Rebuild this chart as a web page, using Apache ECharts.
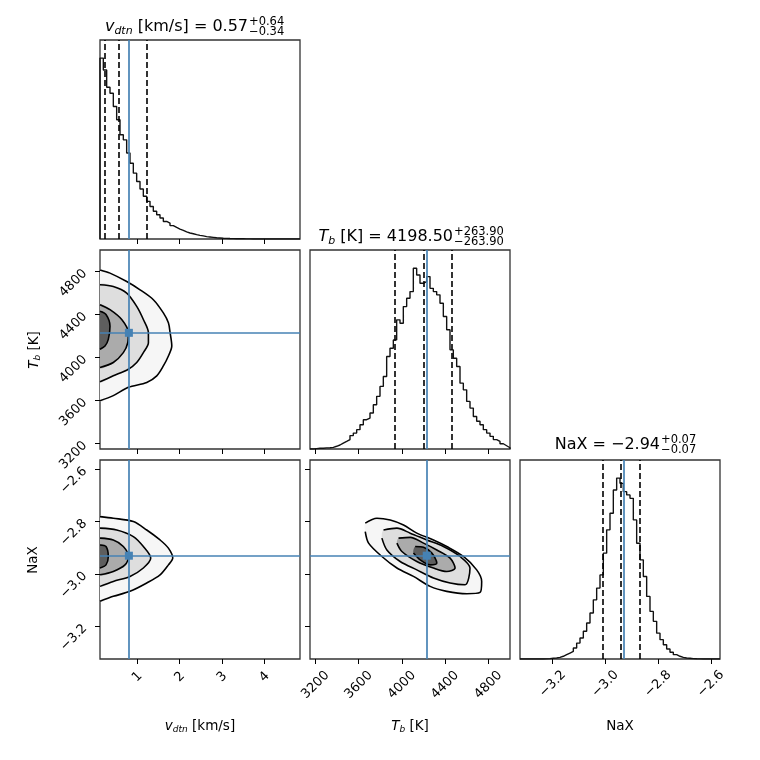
<!DOCTYPE html>
<html>
<head>
<meta charset="utf-8">
<script src="https://cdn.jsdelivr.net/npm/echarts@6/dist/echarts.min.js"></script>
<style>
  html, body { margin: 0; padding: 0; background: #fff; }
  #main { width: 760px; height: 760px; }
</style>
</head>
<body>
<div id="main"></div>
<script>
// ---- data ----
var vdtnRange = [0.118, 4.84];
var tbRange = [3150, 5000];
var naxRange = [-3.324, -2.565];

var vdtnTicks = [1, 2, 3, 4];
var tbTicks = [3200, 3600, 4000, 4400, 4800];
var naxTicks = [-3.2, -3.0, -2.8, -2.6];

var truthVdtn = 0.80;
var truthTb = 4230;
var truthNax = -2.93;

// 16 / 50 / 84 per cent quantiles
var qVdtn = [0.23, 0.57, 1.21];
var qTb = [3934.6, 4198.5, 4462.4];
var qNax = [-3.01, -2.94, -2.87];

// histogram heights, 60 bins over each axis range (peak = 100)
var histVdtn = [
  100, 93.4, 83.9, 80.6, 73.2, 65.9, 57.6, 54.8, 47.5, 41.9,
  36.4, 31.8, 27.6, 23.6, 20.8, 18.0, 15.3, 13.4, 11.6, 9.7,
  8.8, 7.4, 6.4, 5.5, 4.8, 3.9, 3.3, 2.9, 2.4, 2.0,
  1.7, 1.3, 1.1, 0.9, 0.7, 0.55, 0.4, 0.35, 0.25, 0.2,
  0.15, 0.1, 0.1, 0.05, 0.05, 0.03, 0, 0, 0, 0,
  0, 0, 0, 0, 0, 0, 0, 0, 0, 0
];
var histTb = [
  0.0, 0.2, 0.4, 0.4, 0.6, 0.7, 0.9, 1.5, 2.2, 3.3,
  4.2, 5.2, 7.4, 8.8, 10.7, 13.4, 16.2, 17.1, 19.9, 24.5,
  29.1, 34.6, 40.1, 51.1, 55.7, 60.3, 71.4, 69.5, 78.7, 83.3,
  87.0, 99.9, 96.2, 91.6, 92.5, 95.3, 88.8, 87.0, 85.2, 80.6,
  73.2, 65.9, 54.8, 50.2, 45.6, 36.4, 32.7, 26.3, 22.6, 18.0,
  15.3, 13.4, 10.7, 8.8, 7.0, 5.2, 4.2, 2.9, 1.8, 0.7
];
var histNax = [
  0, 0, 0, 0, 0, 0, 0, 0.05, 0.2, 0.4,
  0.55, 0.9, 1.5, 2.4, 3.3, 4.2, 6.1, 8.8, 11.6, 15.3,
  19.9, 25.4, 32.7, 39.2, 46.5, 58.5, 71.4, 80.6, 93.4, 100,
  97.1, 92.5, 90.7, 88.8, 76.9, 64.0, 54.8, 45.6, 34.6, 26.3,
  20.8, 14.3, 10.7, 7.9, 5.5, 3.7, 2.4, 1.5, 0.9, 0.55,
  0.4, 0.2, 0.1, 0.05, 0, 0, 0, 0, 0, 0
];

// contour levels, outer -> inner
var contVdtnTb = [
  [[0.118,4815],[0.354,4785],[0.749,4707],[1.064,4630],[1.378,4538],[1.614,4415],[1.733,4323],[1.773,4231],[1.813,4107],[1.733,4015],[1.614,3922],[1.458,3830],[1.222,3769],[0.787,3723],[0.432,3646],[0.118,3599]],
  [[0.118,4677],[0.432,4661],[0.749,4600],[0.985,4476],[1.142,4354],[1.261,4231],[1.261,4138],[1.142,4046],[0.985,3954],[0.787,3892],[0.432,3830],[0.118,3775]],
  [[0.118,4492],[0.354,4446],[0.631,4354],[0.787,4231],[0.773,4138],[0.669,4046],[0.432,3954],[0.118,3908]],
  [[0.118,4430],[0.26,4400],[0.354,4292],[0.314,4169],[0.236,4107],[0.118,4077]]
];
var contVdtnNax = [
  [[0.118,-2.781],[0.432,-2.787],[0.905,-2.800],[1.222,-2.832],[1.536,-2.870],[1.733,-2.901],[1.836,-2.939],[1.733,-2.965],[1.536,-3.003],[1.222,-3.034],[0.827,-3.066],[0.432,-3.085],[0.118,-3.104]],
  [[0.118,-2.825],[0.513,-2.832],[0.905,-2.857],[1.142,-2.895],[1.316,-2.939],[1.142,-2.977],[0.827,-3.009],[0.432,-3.028],[0.118,-3.047]],
  [[0.118,-2.863],[0.432,-2.870],[0.669,-2.895],[0.787,-2.933],[0.708,-2.965],[0.432,-2.990],[0.118,-3.003]],
  [[0.118,-2.889],[0.26,-2.895],[0.314,-2.933],[0.26,-2.965],[0.118,-2.977]]
];
var contTbNax = [
  [[3661,-2.806],[3769,-2.787],[3892,-2.794],[4015,-2.813],[4138,-2.844],[4292,-2.870],[4415,-2.895],[4569,-2.933],[4692,-2.984],[4738,-3.028],[4723,-3.070],[4600,-3.075],[4415,-3.066],[4261,-3.047],[4107,-3.009],[3954,-2.977],[3815,-2.933],[3692,-2.882],[3661,-2.838]],
  [[3830,-2.832],[3954,-2.825],[4077,-2.844],[4231,-2.870],[4384,-2.895],[4538,-2.933],[4630,-2.977],[4584,-3.041],[4446,-3.034],[4292,-3.015],[4138,-2.984],[3984,-2.952],[3861,-2.908],[3815,-2.863]],
  [[3969,-2.863],[4077,-2.860],[4200,-2.882],[4323,-2.908],[4446,-2.939],[4492,-2.977],[4415,-2.990],[4292,-2.977],[4138,-2.952],[4000,-2.914],[3954,-2.882]],
  [[4123,-2.895],[4200,-2.898],[4277,-2.920],[4323,-2.958],[4261,-2.965],[4169,-2.946],[4107,-2.920]]
];

// ---- layout / style ----
var FONT = 'DejaVu Sans';
var BLUE = '#4682b4';
var panelLeft = [100, 310, 520];
var panelTop = [40, 250, 460];
var panelSize = 200;
var levelFill = ['#f6f6f6', '#dedede', '#ababab', '#5e5e5e'];

var params = [
  { range: vdtnRange, ticks: vdtnTicks, truth: truthVdtn, q: qVdtn, hist: histVdtn,
    fmt: function (v) { return String(v); }, xMargin: 18 },
  { range: tbRange, ticks: tbTicks, truth: truthTb, q: qTb, hist: histTb,
    fmt: function (v) { return String(v); }, xMargin: 26 },
  { range: naxRange, ticks: naxTicks, truth: truthNax, q: qNax, hist: histNax,
    fmt: function (v) { return (v < 0 ? '\u2212' : '') + Math.abs(v).toFixed(1); }, xMargin: 25 }
];
var pairs = {'1-0': contVdtnTb, '2-0': contVdtnNax, '2-1': contTbNax};

function histLine(counts, range) {
  var n = counts.length, w = (range[1] - range[0]) / n;
  var pts = [[range[0], 0]];
  for (var i = 0; i < n; i++) pts.push([range[0] + i * w, counts[i]]);
  pts.push([range[1], counts[n - 1]]);
  pts.push([range[1], 0]);
  return pts;
}

var grid = [], xAxis = [], yAxis = [], series = [];
var g = 0;
for (var r = 0; r < 3; r++) {
  for (var c = 0; c <= r; c++) {
    var px = params[c];
    grid.push({
      left: panelLeft[c], top: panelTop[r], width: panelSize, height: panelSize - 1,
      show: true, borderColor: '#333', borderWidth: 1.3, backgroundColor: 'transparent',
      outerBoundsMode: 'none', containLabel: false
    });
    xAxis.push({
      type: 'value', gridIndex: g, min: px.range[0], max: px.range[1],
      axisLine: { show: false }, splitLine: { show: false },
      axisTick: { show: true, inside: false, length: 5, customValues: px.ticks,
        lineStyle: { color: '#000', width: 1 } },
      axisLabel: { show: r === 2, customValues: px.ticks, formatter: px.fmt, rotate: 45,
        align: 'center', verticalAlign: 'middle', margin: px.xMargin,
        color: '#000', fontFamily: FONT, fontSize: 13 }
    });
    if (r === c) {
      yAxis.push({ type: 'value', gridIndex: g, min: 0, max: 110,
        axisLine: { show: false }, splitLine: { show: false },
        axisTick: { show: false }, axisLabel: { show: false } });
      var ml = px.q.map(function (q) {
        return { xAxis: q, lineStyle: { color: '#000', width: 1.6, type: [6, 3] } };
      });
      ml.push({ xAxis: px.truth, lineStyle: { color: BLUE, width: 1.7, type: 'solid' } });
      series.push({
        type: 'line', xAxisIndex: g, yAxisIndex: g, data: histLine(px.hist, px.range),
        step: 'end', symbol: 'none', lineStyle: { color: '#111', width: 1.4 },
        animation: false, silent: true, z: 2,
        markLine: { silent: true, symbol: ['none', 'none'], label: { show: false },
          emphasis: { disabled: true }, animation: false, data: ml }
      });
    } else {
      var py = params[r];
      yAxis.push({
        type: 'value', gridIndex: g, min: py.range[0], max: py.range[1],
        axisLine: { show: false }, splitLine: { show: false },
        axisTick: { show: true, inside: false, length: 5, customValues: py.ticks,
          lineStyle: { color: '#000', width: 1 } },
        axisLabel: { show: c === 0, customValues: py.ticks, formatter: py.fmt, rotate: 45,
          align: 'right', verticalAlign: 'middle', margin: 15,
          color: '#000', fontFamily: FONT, fontSize: 13 }
      });
      var levels = pairs[r + '-' + c];
      var closed = (c !== 0);
      (function (levels) {
        series.push({
          type: 'custom', xAxisIndex: g, yAxisIndex: g, clip: true, silent: true,
          animation: false, z: 1,
          data: levels.map(function (l, i) { return [i]; }),
          renderItem: function (p, api) {
            var i = api.value(0);
            var pts = levels[i].map(function (d) { return api.coord(d); });
            return { type: 'polygon', shape: { points: pts, smooth: 0.3 },
              style: { fill: levelFill[i], stroke: null } };
          }
        });
      })(levels);
      levels.forEach(function (lv) {
        var d = lv.slice();
        if (closed) d.push(lv[0]);
        series.push({
          type: 'line', xAxisIndex: g, yAxisIndex: g, data: d, smooth: 0.3,
          symbol: 'none', lineStyle: { color: '#000', width: 1.6 },
          animation: false, silent: true, z: 2
        });
      });
      series.push({
        type: 'scatter', xAxisIndex: g, yAxisIndex: g, data: [[px.truth, py.truth]],
        symbol: 'rect', symbolSize: 8, itemStyle: { color: BLUE, opacity: 1 },
        animation: false, silent: true, z: 4,
        markLine: { silent: true, symbol: ['none', 'none'], label: { show: false },
          emphasis: { disabled: true }, animation: false,
          lineStyle: { color: BLUE, width: 1.7, type: 'solid' },
          data: [{ xAxis: px.truth }, { yAxis: py.truth }] }
      });
    }
    g++;
  }
}

// ---- titles and axis names ----
function rich(size) {
  return {
    i: { fontFamily: FONT, fontSize: size, fontStyle: 'italic', lineHeight: size + 3, verticalAlign: 'middle', fill: '#000' },
    s: { fontFamily: FONT, fontSize: Math.round(size * 0.7), fontStyle: 'italic', lineHeight: size * 0.55, verticalAlign: 'bottom', fill: '#000' },
    n: { fontFamily: FONT, fontSize: size, lineHeight: size + 3, verticalAlign: 'middle', fill: '#000' }
  };
}
function txt(x, y, text, size, align, rot) {
  return { type: 'text', x: x, y: y, rotation: rot || 0, silent: true,
    style: { text: text, rich: rich(size), fontFamily: FONT, fontSize: size, fill: '#000',
      align: align, verticalAlign: 'middle' } };
}
function small(x, y, text) {
  return { type: 'text', x: x, y: y, silent: true,
    style: { text: text, fontFamily: FONT, fontSize: 11.5, fill: '#000', align: 'left', verticalAlign: 'middle' } };
}

var TS = 16, LS = 13.5;
var graphic = [
  txt(248, 27, '{i|v}{s|dtn}{n| [km/s] = 0.57}', TS, 'right'),
  small(249, 22, '+0.64'), small(249, 32, '\u22120.34'),
  txt(453, 237, '{i|T}{s|b}{n| [K] = 4198.50}', TS, 'right'),
  small(454, 232, '+263.90'), small(454, 242, '\u2212263.90'),
  txt(660, 445, '{n|NaX = \u22122.94}', TS, 'right'),
  small(661, 440, '+0.07'), small(661, 450, '\u22120.07'),

  txt(200, 726, '{i|v}{s|dtn}{n| [km/s]}', LS, 'center'),
  txt(410, 726, '{i|T}{s|b}{n| [K]}', LS, 'center'),
  txt(620, 726, '{n|NaX}', LS, 'center'),
  txt(34, 350, '{i|T}{s|b}{n| [K]}', LS, 'center', Math.PI / 2),
  txt(33, 560, '{n|NaX}', LS, 'center', Math.PI / 2)
];

var chart = echarts.init(document.getElementById('main'));
chart.setOption({
  backgroundColor: '#fff',
  animation: false,
  grid: grid,
  xAxis: xAxis,
  yAxis: yAxis,
  series: series,
  graphic: graphic
});
</script>
</body>
</html>
